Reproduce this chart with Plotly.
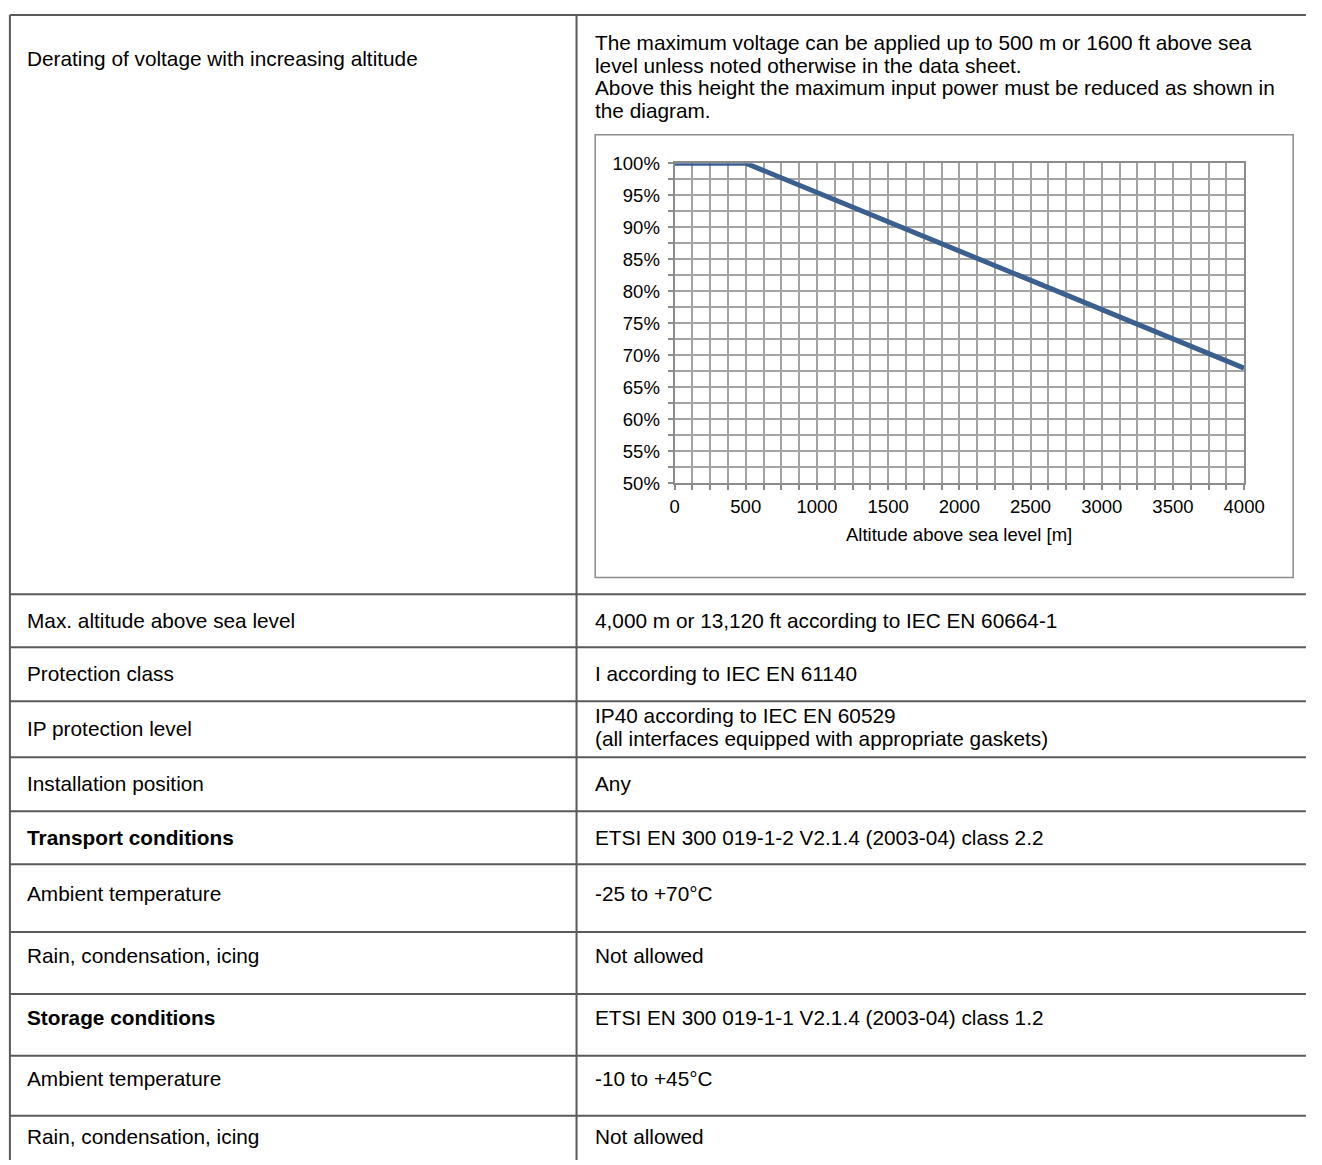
import plotly.graph_objects as go

# Reference canvas size; all geometry below is in these pixels and is
# converted to paper fractions so the figure can fill the whole window.
W, H = 1322, 1165

# ---- data ----
altitude_m = [0, 500, 4000]
max_voltage = [1.00, 1.00, 0.68]
x_tick_vals = [0, 500, 1000, 1500, 2000, 2500, 3000, 3500, 4000]
y_tick_vals = [0.50, 0.55, 0.60, 0.65, 0.70, 0.75, 0.80, 0.85, 0.90, 0.95, 1.00]
y_tick_text = ["50%", "55%", "60%", "65%", "70%", "75%", "80%", "85%", "90%", "95%", "100%"]
x_title = "Altitude above sea level [m]"

intro_lines = [
    "The maximum voltage can be applied up to 500 m or 1600 ft above sea",
    "level unless noted otherwise in the data sheet.",
    "Above this height the maximum input power must be reduced as shown in",
    "the diagram.",
]
left_labels = [
    "Derating of voltage with increasing altitude",
    "Max. altitude above sea level",
    "Protection class",
    "IP protection level",
    "Installation position",
    "<b>Transport conditions</b>",
    "Ambient temperature",
    "Rain, condensation, icing",
    "<b>Storage conditions</b>",
    "Ambient temperature",
    "Rain, condensation, icing",
]
right_labels = [
    None,
    "4,000 m or 13,120 ft according to IEC EN 60664-1",
    "I according to IEC EN 61140",
    "IP40 according to IEC EN 60529<br>(all interfaces equipped with appropriate gaskets)",
    "Any",
    "ETSI EN 300 019-1-2 V2.1.4 (2003-04) class 2.2",
    "-25 to +70°C",
    "Not allowed",
    "ETSI EN 300 019-1-1 V2.1.4 (2003-04) class 1.2",
    "-10 to +45°C",
    "Not allowed",
]

# ---- layout geometry (reference pixels) ----
row_lines = [594, 648, 703, 760, 815, 869, 938, 1001, 1064, 1125]
left_text_y = [48, 621, 675, 731, 787, 842, 899, 962, 1025, 1087, 1146]
intro_y = [32, 55, 78, 101]
two_line_y = [717, 741]
TABLE_TOP, TABLE_LEFT, COL_DIV = 4, 5, 583
FRAME = (602, 126, 1314, 577)
PLOT = (683, 155, 1264, 481)

def fx(x):
    return x / W

def fy(y):
    return 1 - y / H

FONT = "Liberation Sans, Arial, sans-serif"
TEXT_SIZE = 20.8
AXIS_SIZE = 18.5
LINE_COLOR = "#5a5a5a"
GRID = "#a3a3a3"

fig = go.Figure()
fig.add_trace(go.Scatter(
    x=altitude_m, y=max_voltage, mode="lines",
    line=dict(color="#3b5f8f", width=5),
    hoverinfo="skip", showlegend=False,
))

shapes = []
def hline(y, x0, x1, color=LINE_COLOR, w=2):
    shapes.append(dict(type="line", xref="paper", yref="paper",
                       x0=fx(x0), x1=fx(x1), y0=fy(y), y1=fy(y),
                       line=dict(color=color, width=w)))

def vline(x, y0, y1, color=LINE_COLOR, w=2):
    shapes.append(dict(type="line", xref="paper", yref="paper",
                       x0=fx(x), x1=fx(x), y0=fy(y0), y1=fy(y1),
                       line=dict(color=color, width=w)))

hline(TABLE_TOP, TABLE_LEFT, W + 5)
vline(TABLE_LEFT, TABLE_TOP, H + 5)
vline(COL_DIV, TABLE_TOP, H + 5)
for y in row_lines:
    hline(y, TABLE_LEFT, W + 5)

shapes.append(dict(type="rect", xref="paper", yref="paper",
                   x0=fx(FRAME[0]), x1=fx(FRAME[2]), y0=fy(FRAME[3]), y1=fy(FRAME[1]),
                   line=dict(color="#8c8c8c", width=1.5)))

annotations = []
def text(x, y, s, size=TEXT_SIZE, xanchor="left"):
    annotations.append(dict(xref="paper", yref="paper", x=fx(x), y=fy(y), text=s,
                            showarrow=False, xanchor=xanchor, yanchor="middle",
                            align="left",
                            font=dict(family=FONT, size=size, color="#000000")))

for s, y in zip(intro_lines, intro_y):
    text(600, y, s)
for i, (s, y) in enumerate(zip(left_labels, left_text_y)):
    text(20, y, s)
    r = right_labels[i]
    if r is None:
        continue
    if "<br>" in r:
        for part, py in zip(r.split("<br>"), two_line_y):
            text(600, py, part)
    else:
        text(600, y, r)

text((PLOT[0] + PLOT[2]) / 2, 533, x_title, size=AXIS_SIZE, xanchor="center")

axis_font = dict(family=FONT, size=AXIS_SIZE, color="#000000")
fig.update_layout(
    autosize=True,
    margin=dict(l=0, r=0, t=0, b=0),
    paper_bgcolor="white", plot_bgcolor="white",
    shapes=shapes, annotations=annotations,
    xaxis=dict(
        domain=[fx(PLOT[0]), fx(PLOT[2])],
        range=[0, 4000], tickvals=x_tick_vals, ticktext=[str(v) for v in x_tick_vals],
        showgrid=True, gridcolor=GRID, gridwidth=2,
        showline=True, linecolor="#8c8c8c", linewidth=2, mirror=True,
        ticks="outside", ticklen=5, tickcolor="#8c8c8c", tickwidth=1.5,
        tickfont=axis_font, zeroline=False,
        minor=dict(dtick=125, tick0=0, showgrid=True, gridcolor=GRID, gridwidth=2,
                   ticks="outside", ticklen=5, tickcolor="#8c8c8c", tickwidth=1.5),
    ),
    yaxis=dict(
        domain=[fy(PLOT[3]), fy(PLOT[1])],
        range=[0.5, 1.0], tickvals=y_tick_vals, ticktext=y_tick_text,
        showgrid=True, gridcolor=GRID, gridwidth=2,
        showline=True, linecolor="#8c8c8c", linewidth=2, mirror=True,
        ticks="outside", ticklen=5, tickcolor="#8c8c8c", tickwidth=1.5,
        ticklabelstandoff=4,
        tickfont=axis_font, zeroline=False,
        minor=dict(dtick=0.025, tick0=0.5, showgrid=True, gridcolor=GRID, gridwidth=2,
                   ticks="outside", ticklen=5, tickcolor="#8c8c8c", tickwidth=1.5),
    ),
)

fig.write_html(
    "out.html",
    default_width="100vw",
    default_height="100vh",
    config={"displayModeBar": False, "responsive": True},
    post_script=(
        "document.documentElement.style.overflow='hidden';"
        "document.body.style.margin='0px';"
        "document.body.style.overflow='hidden';"
        "Plotly.Plots.resize(document.getElementById('{plot_id}'));"
    ),
)
